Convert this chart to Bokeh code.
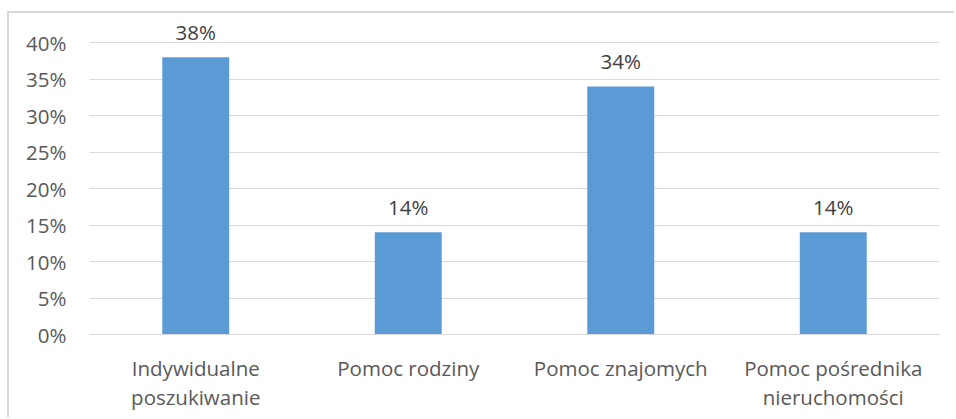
from bokeh.plotting import figure
from bokeh.models import ColumnDataSource, LabelSet, NumeralTickFormatter, FixedTicker, Range1d
from bokeh.core.properties import value
from bokeh.embed import file_html
from bokeh.resources import INLINE

categories = ["Indywidualne\nposzukiwanie", "Pomoc rodziny", "Pomoc znajomych", "Pomoc pośrednika\nnieruchomości"]
values = [0.38, 0.14, 0.34, 0.14]
value_labels = ["38%", "14%", "34%", "14%"]
y_ticks = [0, 0.05, 0.10, 0.15, 0.20, 0.25, 0.30, 0.35, 0.40]

FONT = "Open Sans"
FS = "20.5px"
TEXT = "#595959"

src = ColumnDataSource(dict(cat=categories, val=values, lab=value_labels))

p = figure(x_range=categories, y_range=Range1d(0, 0.44), width=947, height=406,
           output_backend="svg", toolbar_location=None, tools="",
           min_border_left=80, min_border_right=17, min_border_top=0, min_border_bottom=85,
           styles={"margin-top": "11px", "margin-left": "7px",
                   "border-left": "2px solid #d9d9d9",
                   "border-top": "2px solid #d9d9d9"})

p.vbar(x="cat", top="val", width=0.315, source=src, color="#5B9BD5", line_color=None)

labels = LabelSet(x="cat", y="val", text="lab", source=src, y_offset=25,
                  text_align="center", text_baseline="middle",
                  text_font=value(FONT), text_font_size=value(FS), text_color=value("#404040"))
p.add_layout(labels)

p.outline_line_color = None
p.background_fill_color = "white"
p.border_fill_color = "white"

p.yaxis.ticker = FixedTicker(ticks=y_ticks)
p.yaxis.formatter = NumeralTickFormatter(format="0%")
p.yaxis.axis_line_color = None
p.yaxis.major_tick_line_color = None
p.yaxis.minor_tick_line_color = None
p.yaxis.major_tick_out = 0
p.yaxis.major_tick_in = 0
p.yaxis.major_label_standoff = 23
p.yaxis.major_label_text_font = FONT
p.yaxis.major_label_text_font_size = FS
p.yaxis.major_label_text_color = TEXT

p.xaxis.axis_line_color = "#d9d9d9"
p.xaxis.axis_line_width = 1
p.xaxis.major_tick_line_color = None
p.xaxis.minor_tick_line_color = None
p.xaxis.major_tick_out = 0
p.xaxis.major_tick_in = 0
p.xaxis.major_label_standoff = 19
p.xaxis.major_label_text_font = FONT
p.xaxis.major_label_text_font_size = FS
p.xaxis.major_label_text_line_height = 1.05
p.xaxis.major_label_text_color = TEXT

p.xgrid.grid_line_color = None
p.ygrid.grid_line_color = "#d9d9d9"
p.ygrid.grid_line_width = 1
p.x_range.range_padding = 0

open("out.html", "w").write(file_html(p, INLINE))
